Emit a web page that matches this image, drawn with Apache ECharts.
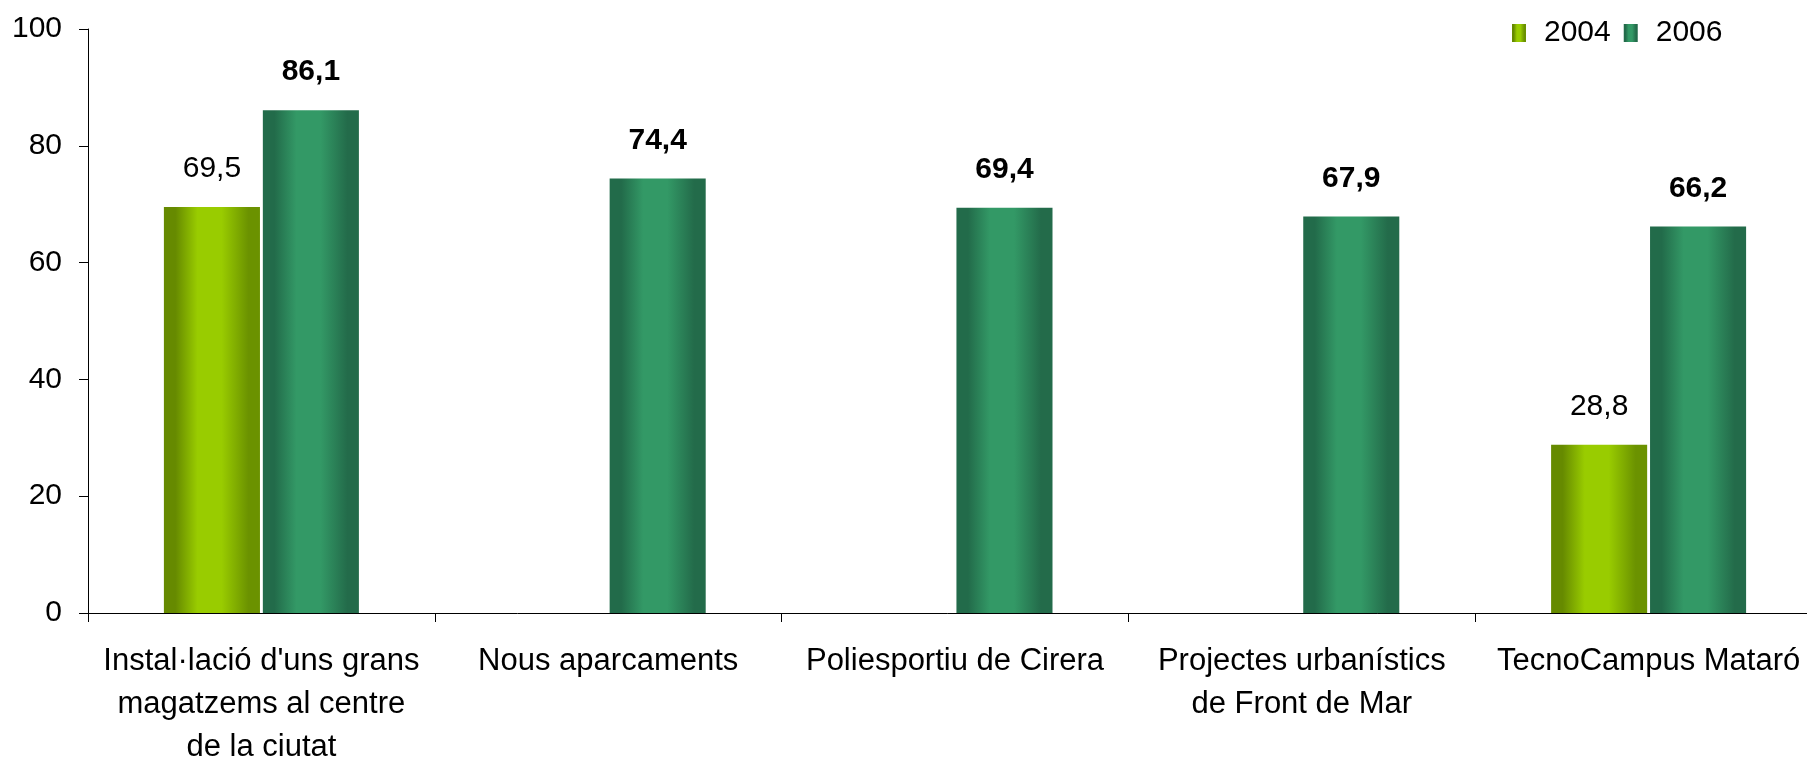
<!DOCTYPE html>
<html><head><meta charset="utf-8">
<script src="https://cdn.jsdelivr.net/npm/echarts@6/dist/echarts.min.js"></script>
<style>html,body{margin:0;padding:0;background:#fff}#c{width:1807px;height:759px}</style>
</head><body><div id="c"></div>
<script>
const categories = ["Instal·lació d'uns grans\nmagatzems al centre\nde la ciutat", "Nous aparcaments", "Poliesportiu de Cirera", "Projectes urbanístics\nde Front de Mar", "TecnoCampus Mataró"];
const seriesNames = ["2004", "2006"];
const values2004 = [69.5, null, null, null, 28.8];
const values2006 = [86.1, 74.4, 69.4, 67.9, 66.2];
const yTicks = [0, 20, 40, 60, 80, 100];

const FONT = "'Liberation Sans', Arial, sans-serif";
const fmt = p => p.value == null ? '' : String(p.value.toFixed(1)).replace('.', ',');
function grad(dark, light, dark2) {
  return new echarts.graphic.LinearGradient(0, 0, 1, 0, [
    {offset: 0, color: dark}, {offset: 0.12, color: dark},
    {offset: 0.35, color: light}, {offset: 0.6, color: light},
    {offset: 0.88, color: dark2}, {offset: 1, color: dark2}
  ]);
}
const chart = echarts.init(document.getElementById('c'));
chart.setOption({
  animation: false,
  textStyle: {fontFamily: FONT},
  legend: {
    left: 1507, top: 13, itemWidth: 14, itemHeight: 18, itemGap: 13, icon: 'rect',
    textStyle: {fontFamily: FONT, fontSize: 30, color: '#000', padding: [0, 0, 0, 13]},
    data: seriesNames
  },
  grid: {left: 88, width: 1734, top: 29, bottom: 146, containLabel: false, outerBoundsMode: 'none'},
  xAxis: {
    type: 'category', data: categories,
    axisLine: {lineStyle: {color: '#000', width: 1}},
    axisTick: {show: true, length: 9, lineStyle: {color: '#000'}},
    axisLabel: {fontFamily: FONT, fontSize: 31, color: '#000', lineHeight: 43, margin: 27, interval: 0}
  },
  yAxis: {
    type: 'value', min: yTicks[0], max: yTicks[yTicks.length - 1], interval: 20,
    splitLine: {show: false},
    axisLine: {show: true, lineStyle: {color: '#000', width: 1}},
    axisTick: {show: true, length: 9, lineStyle: {color: '#000'}},
    axisLabel: {fontFamily: FONT, fontSize: 30, color: '#000', margin: 26}
  },
  series: [
    {
      name: seriesNames[0], type: 'bar', data: values2004, barWidth: '27.7%', barGap: '3%',
      itemStyle: {color: grad('#668a00', '#99cc00', '#6b9200')},
      label: {show: true, position: 'top', distance: 23, formatter: fmt, fontFamily: FONT, fontSize: 30, color: '#000'}
    },
    {
      name: seriesNames[1], type: 'bar', data: values2006, barWidth: '27.7%', barGap: '3%',
      itemStyle: {color: grad('#226b4a', '#339966', '#236b4a')},
      label: {show: true, position: 'top', distance: 23, formatter: fmt, fontFamily: FONT, fontSize: 30, fontWeight: 'bold', color: '#000'}
    }
  ]
});
</script></body></html>
